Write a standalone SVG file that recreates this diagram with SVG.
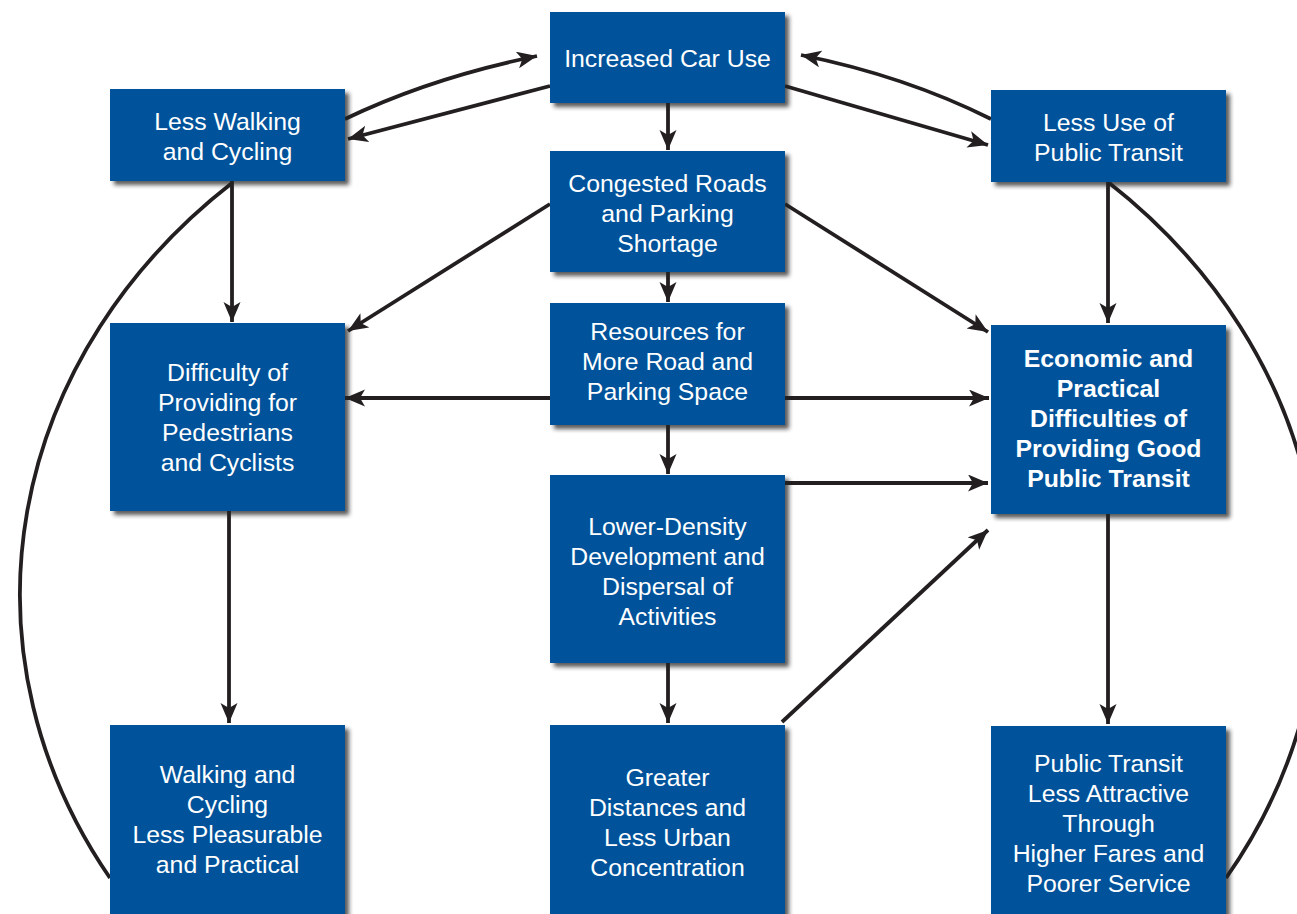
<svg xmlns="http://www.w3.org/2000/svg" width="1297" height="914" viewBox="0 0 1297 914">
<defs>
<style>
.box{fill:#01529b;filter:url(#sh)}
.t{font-family:"Liberation Sans",Arial,Helvetica,sans-serif;font-size:24.8px;fill:#ffffff;text-anchor:middle}
.b{font-weight:bold}
.c{fill:none;stroke:#231f20;stroke-width:3.8}
.a{marker-end:url(#ah)}
</style>
<filter id="sh" x="-10%" y="-10%" width="130%" height="130%">
<feDropShadow dx="4" dy="4" stdDeviation="2" flood-color="#222" flood-opacity="0.75"/>
</filter>
<marker id="ah" markerUnits="userSpaceOnUse" markerWidth="22" markerHeight="18" refX="20" refY="8.5" orient="auto">
<path d="M0,0 L20,8.5 L0,17 L5,8.5 z" fill="#231f20"/>
</marker>
</defs>
<rect width="1297" height="914" fill="#ffffff"/>
<g id="connectors">
<path class="c" d="M232,183 A638 553 0 0 0 110,878"/>
<path class="c" d="M1108,182 A642 553 0 0 1 1226,878"/>
<path class="c a" d="M345,119 Q430,78 537,56"/>
<path class="c a" d="M550,86 L348,139"/>
<path class="c a" d="M991,119 Q905,76 801,55"/>
<path class="c a" d="M785,86 L988,145"/>
<path class="c a" d="M668,103 L668,150"/>
<path class="c a" d="M668,272 L668,302"/>
<path class="c a" d="M550,204 L348,331"/>
<path class="c a" d="M785,204 L988,332"/>
<path class="c a" d="M550,398 L345,398"/>
<path class="c a" d="M785,398 L989,398"/>
<path class="c a" d="M668,425 L668,474"/>
<path class="c a" d="M785,483 L988,483"/>
<path class="c a" d="M668,663 L668,723"/>
<path class="c a" d="M782,722 L988,530"/>
<path class="c a" d="M232,181 L232,322"/>
<path class="c a" d="M229,511 L229,723"/>
<path class="c a" d="M1108,182 L1108,323"/>
<path class="c a" d="M1108,514 L1108,724"/>
</g>
<g id="n-increased-car-use">
<rect class="box" x="550" y="12" width="235" height="91"/>
<text class="t" x="667.5" y="67">Increased Car Use</text>
</g>
<g id="n-less-walking">
<rect class="box" x="110" y="89" width="235" height="92"/>
<text class="t" x="227.5" y="130">Less Walking</text>
<text class="t" x="227.5" y="160">and Cycling</text>
</g>
<g id="n-less-use-pt">
<rect class="box" x="991" y="90" width="235" height="92"/>
<text class="t" x="1108.5" y="131">Less Use of</text>
<text class="t" x="1108.5" y="161">Public Transit</text>
</g>
<g id="n-congested">
<rect class="box" x="550" y="151" width="235" height="121"/>
<text class="t" x="667.5" y="192">Congested Roads</text>
<text class="t" x="667.5" y="222">and Parking</text>
<text class="t" x="667.5" y="252">Shortage</text>
</g>
<g id="n-resources">
<rect class="box" x="550" y="303" width="235" height="122"/>
<text class="t" x="667.5" y="340">Resources for</text>
<text class="t" x="667.5" y="370">More Road and</text>
<text class="t" x="667.5" y="400">Parking Space</text>
</g>
<g id="n-difficulty">
<rect class="box" x="110" y="323" width="235" height="188"/>
<text class="t" x="227.5" y="381">Difficulty of</text>
<text class="t" x="227.5" y="411">Providing for</text>
<text class="t" x="227.5" y="441">Pedestrians</text>
<text class="t" x="227.5" y="471">and Cyclists</text>
</g>
<g id="n-economic">
<rect class="box" x="991" y="325" width="235" height="189"/>
<text class="t b" x="1108.5" y="367">Economic and</text>
<text class="t b" x="1108.5" y="397">Practical</text>
<text class="t b" x="1108.5" y="427">Difficulties of</text>
<text class="t b" x="1108.5" y="457">Providing Good</text>
<text class="t b" x="1108.5" y="487">Public Transit</text>
</g>
<g id="n-lower-density">
<rect class="box" x="550" y="475" width="235" height="188"/>
<text class="t" x="667.5" y="535">Lower-Density</text>
<text class="t" x="667.5" y="565">Development and</text>
<text class="t" x="667.5" y="595">Dispersal of</text>
<text class="t" x="667.5" y="625">Activities</text>
</g>
<g id="n-walking-less">
<rect class="box" x="110" y="725" width="235" height="195"/>
<text class="t" x="227.5" y="783">Walking and</text>
<text class="t" x="227.5" y="813">Cycling</text>
<text class="t" x="227.5" y="843">Less Pleasurable</text>
<text class="t" x="227.5" y="873">and Practical</text>
</g>
<g id="n-greater">
<rect class="box" x="550" y="725" width="235" height="195"/>
<text class="t" x="667.5" y="786">Greater</text>
<text class="t" x="667.5" y="816">Distances and</text>
<text class="t" x="667.5" y="846">Less Urban</text>
<text class="t" x="667.5" y="876">Concentration</text>
</g>
<g id="n-pt-less">
<rect class="box" x="991" y="726" width="235" height="194"/>
<text class="t" x="1108.5" y="772">Public Transit</text>
<text class="t" x="1108.5" y="802">Less Attractive</text>
<text class="t" x="1108.5" y="832">Through</text>
<text class="t" x="1108.5" y="862">Higher Fares and</text>
<text class="t" x="1108.5" y="892">Poorer Service</text>
</g>
</svg>
